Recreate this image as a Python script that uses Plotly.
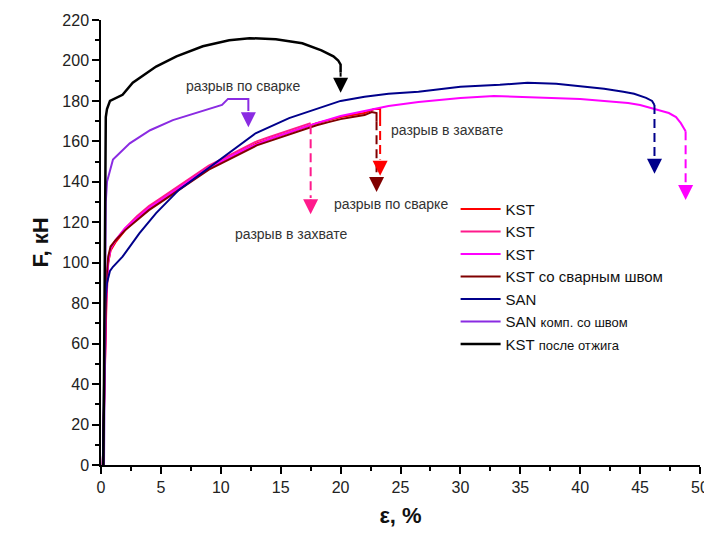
import plotly.graph_objects as go

# ---------------- data ----------------
red_x = [0.15, 0.3, 0.45, 0.6, 0.8, 1.2, 2, 3, 4, 5, 6, 7, 8, 9, 10, 11, 12, 13, 14, 15, 16, 17, 18, 19, 20, 21, 22, 22.8, 23.3, 23.3]
red_y = [0, 40, 80, 100, 106, 110, 116, 122, 127, 131, 135, 139, 143, 147, 150, 153, 156, 159, 161, 163, 165, 167, 169, 170.5, 172, 173, 174, 176, 176, 172]

pink_x = [0.15, 0.3, 0.45, 0.6, 0.8, 1.2, 2, 3, 4, 5, 6, 7, 8, 9, 10, 11, 12, 13, 14, 15, 16, 17, 17.5]
pink_y = [0, 45, 85, 100, 107, 111, 117, 123, 128, 132, 136, 140, 144, 148, 151, 154, 157, 160, 162, 164, 166, 168, 169]

mag_x = [0.15, 0.3, 0.45, 0.6, 0.8, 1.2, 2, 3, 4, 5, 6, 7, 8, 9, 10, 12, 14, 16, 18, 20, 22, 24, 26.5, 28, 30, 32.8, 35, 37.5, 40, 43, 44, 45, 45.8, 46.5, 47.4, 48, 48.4, 48.8]
mag_y = [0, 45, 85, 101, 107, 111, 117, 122, 127, 131, 135, 139, 143, 147, 150, 156, 161, 165, 169, 172.5, 175, 177.5, 179.5, 180.5, 181.5, 182.4, 182, 181.4, 181, 179.5, 179, 178, 176.5, 175.5, 174, 172, 169, 165]

dred_x = [0.15, 0.3, 0.45, 0.6, 0.8, 1.2, 2, 3, 4, 5, 6, 7, 8, 9, 10, 11, 12, 13, 14, 15, 16, 17, 18, 19, 20, 21, 22, 22.6, 23.0, 23.0]
dred_y = [0, 50, 92, 103, 108, 111, 116, 121, 126, 130, 134, 138, 142, 146, 149, 152, 155, 158, 160, 162, 164, 166, 168, 169.5, 171, 172, 173, 174.5, 174, 170]

san_x = [0.15, 0.25, 0.35, 0.5, 0.75, 1, 1.8, 3.2, 4.6, 6.5, 8.8, 10.7, 12.9, 15.7, 18.4, 20, 22, 24, 26.5, 28, 30, 33.3, 35.6, 38, 40.3, 42, 43.6, 44.5, 45.5, 46, 46.2]
san_y = [0, 50, 80, 90, 96, 98, 103, 114.5, 124.5, 136, 146, 154, 164, 171.5, 177, 180, 182, 183.5, 184.5, 185.5, 187, 188, 189, 188.5, 187, 186, 184.5, 183.5, 181.5, 180, 178]

sanw_x = [0.25, 0.3, 0.35, 0.4, 0.5, 0.75, 1, 2.4, 4.1, 6, 8.2, 10.1, 10.6, 12.3, 12.3]
sanw_y = [0, 60, 115, 130, 140, 146, 151, 159, 165.5, 170.5, 174.5, 178, 181, 181, 176]

ann_x = [0.2, 0.3, 0.35, 0.4, 0.5, 0.75, 1.8, 2.65, 4.6, 6.3, 8.5, 10.7, 12.4, 14.6, 16.8, 18.4, 19.4, 19.8, 20.0, 20.0]
ann_y = [0, 80, 150, 172, 176, 180, 183, 189, 197, 202, 207, 210, 211, 210.5, 208.5, 205, 202, 200, 198, 194]

names = ["KST", "KST", "KST", "KST со сварным швом", "SAN",
         "SAN <span style='font-size:13px'>комп. со швом</span>",
         "KST <span style='font-size:13px'>после отжига</span>"]
colors = ["#ff0000", "#ff1a8c", "#ff00ff", "#800000", "#00008b", "#8a2be2", "#000000"]
widths = [2, 2, 2, 2, 2, 2, 2.5]
series_x = [red_x, pink_x, mag_x, dred_x, san_x, sanw_x, ann_x]
series_y = [red_y, pink_y, mag_y, dred_y, san_y, sanw_y, ann_y]

# break markers: (x, start y, arrow tip y, dashed?)
brk_x = [23.3, 17.5, 48.8, 23.0, 46.2, 12.3, 20.0]
brk_y0 = [172, 168, 165, 170, 178, 176, 194]
brk_tip = [143, 124, 131, 135, 144, 167, 184]
brk_dash = [True, True, True, True, True, False, False]

labels = ["разрыв по сварке", "разрыв в захвате", "разрыв по сварке", "разрыв в захвате"]
label_x = [6.9, 24.0, 19.3, 11.0]
label_y = [187.5, 165.5, 129, 114]

fig = go.Figure()
for i in range(7):
    fig.add_trace(go.Scatter(x=series_x[i], y=series_y[i], mode="lines", name=names[i],
                             line=dict(color=colors[i], width=widths[i]),
                             legendgroup=str(i)))

for i in range(7):
    head = 8
    fig.add_trace(go.Scatter(x=[brk_x[i], brk_x[i]], y=[brk_y0[i], brk_tip[i] + head], mode="lines",
                             line=dict(color=colors[i], width=2, dash="9px,5px" if brk_dash[i] else "solid"),
                             showlegend=False, hoverinfo="skip"))
    fig.add_annotation(x=brk_x[i], y=brk_tip[i], ax=brk_x[i], ay=brk_tip[i] + head,
                       xref="x", yref="y", axref="x", ayref="y", text="", showarrow=True,
                       arrowhead=2, arrowsize=1.5, arrowwidth=2, arrowcolor=colors[i])

for t, lx, ly in zip(labels, label_x, label_y):
    fig.add_annotation(x=lx, y=ly, xref="x", yref="y", text=t, showarrow=False,
                       xanchor="left", yanchor="middle",
                       font=dict(size=14, color="#333333"))

fig.update_layout(
    width=704, height=520,
    margin=dict(l=93, r=12, t=12, b=63, autoexpand=False),
    paper_bgcolor="white", plot_bgcolor="white",
    font=dict(family="Arial, Liberation Sans, sans-serif", color="#222222"),
    showlegend=True,
    legend=dict(x=0.592, y=0.612, xanchor="left", yanchor="top",
                font=dict(size=15, color="#111111"), bgcolor="rgba(0,0,0,0)",
                tracegroupgap=0, itemwidth=40),
)
fig.update_xaxes(range=[0, 50], tick0=0, dtick=5, showgrid=False, zeroline=False,
                 showline=True, linecolor="black", linewidth=1.5, automargin=False,
                 ticks="outside", ticklen=7, tickwidth=1.5, tickcolor="black",
                 minor=dict(dtick=2.5, ticks="outside", ticklen=4, tickwidth=1.5, tickcolor="black"),
                 tickfont=dict(size=16, color="#222222"), ticklabeloverflow="allow",
                 title=dict(text="<b>ε, %</b>", font=dict(size=22, color="#111111"), standoff=20))
fig.update_yaxes(range=[0, 220], tick0=0, dtick=20, showgrid=False, zeroline=False,
                 showline=True, linecolor="black", linewidth=1.5, automargin=False,
                 ticks="outside", ticklen=7, tickwidth=1.5, tickcolor="black",
                 minor=dict(dtick=10, ticks="outside", ticklen=4, tickwidth=1.5, tickcolor="black"),
                 tickfont=dict(size=16, color="#222222"), ticklabeloverflow="allow",
                 title=dict(text="<b>F, кН</b>", font=dict(size=22, color="#111111"), standoff=8))

fig.write_html("out.html")
